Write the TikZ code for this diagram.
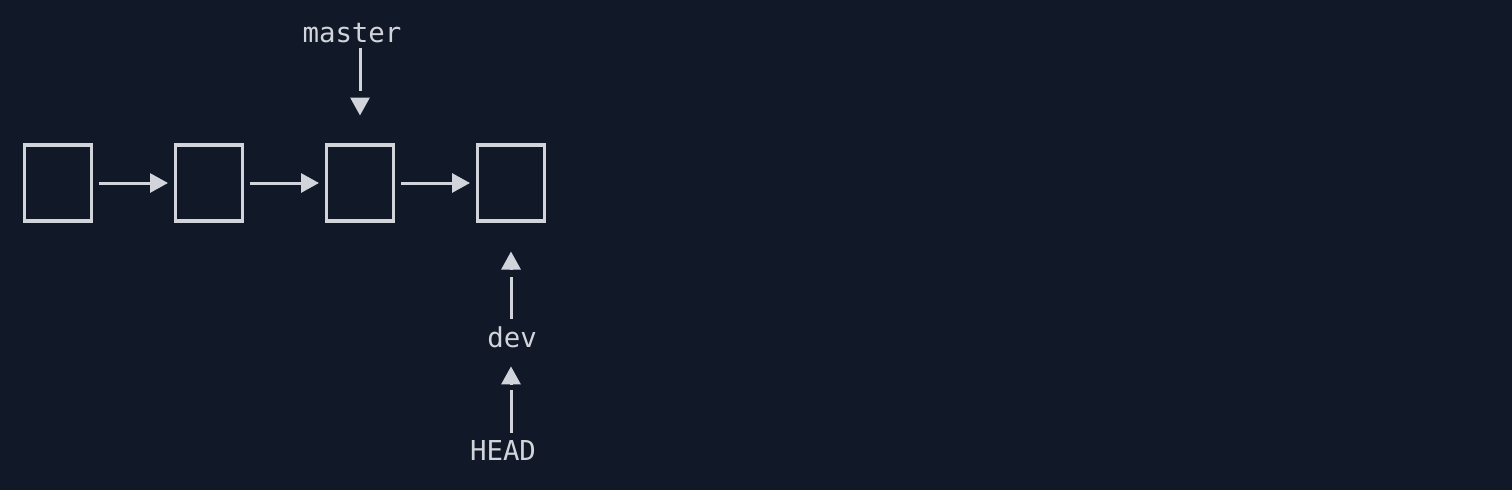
\documentclass[tikz,border=0pt]{standalone}
\usepackage{fontspec}
\setmonofont{DejaVu Sans Mono}
\usetikzlibrary{arrows.meta,calc}
\definecolor{bg}{HTML}{111827}
\definecolor{fg}{HTML}{D1D5DB}
\tikzset{
  commit/.style={draw=fg, line width=3.2pt, minimum width=67pt, minimum height=76pt, inner sep=0pt, outer sep=0pt},
  label/.style={text=fg, inner sep=0pt, outer sep=0pt, font=\ttfamily\fontsize{27.4}{30}\selectfont},
  link/.style={draw=fg, line width=3pt, -{Triangle[length=18pt,width=19pt]}},
  stem/.style={draw=fg, line width=3pt},
  tiponly/.style={draw=fg, line width=3pt, -{Triangle[length=18pt,width=19pt]}},
}
\begin{document}
\begin{tikzpicture}[x=1pt,y=-1pt]
\fill[bg] (0,0) rectangle (1512,490);
\useasboundingbox (0,0) rectangle (1512,490);
\node[commit] (b1) at (58,183) {};
\node[commit] (b2) at (209,183) {};
\node[commit] (b3) at (360,183) {};
\node[commit] (b4) at (511,183) {};
\draw[link, shorten <=7.5pt, shorten >=7.5pt] (b1.east) -- (b2.west);
\draw[link, shorten <=7.5pt, shorten >=7.5pt] (b2.east) -- (b3.west);
\draw[link, shorten <=7.5pt, shorten >=7.5pt] (b3.east) -- (b4.west);
\node[label, anchor=base] (master) at (352,42) {master};
\node[label, anchor=base] (dev) at (512,347) {dev};
\node[label, anchor=base] (head) at (503,460) {HEAD};
% master -> b3
\draw[stem, shorten <=6pt, shorten >=54.5pt] (b3.north |- master.south) -- (b3.north);
\draw[tiponly, shorten >=29.5pt] ($(b3.north)+(0,-47)$) -- (b3.north);
% dev -> b4
\draw[stem, shorten <=7pt, shorten >=55.5pt] (b4.south |- dev.north) -- (b4.south);
\draw[tiponly, shorten >=30.5pt] ($(b4.south)+(0,48)$) -- (b4.south);
% HEAD -> dev
\draw[stem, shorten <=7pt, shorten >=43pt] (b4.south |- head.north) -- (b4.south |- dev.south);
\draw[tiponly, shorten >=19pt] ($(b4.south |- dev.south)+(0,36.5)$) -- (b4.south |- dev.south);
\end{tikzpicture}
\end{document}
